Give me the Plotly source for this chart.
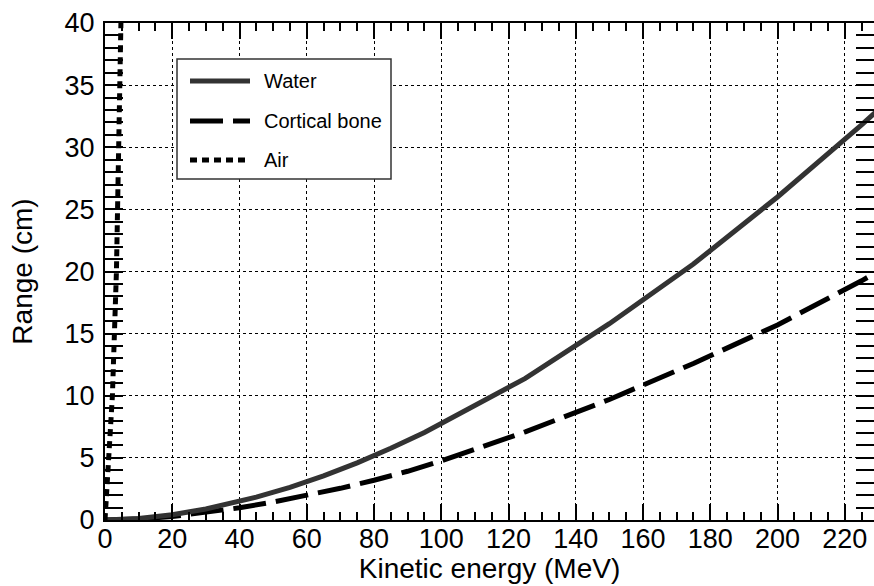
import plotly.graph_objects as go

# ---- data ----
water_E = [0, 10, 20, 30, 45, 55, 65, 75, 85, 95, 125, 150, 175, 200, 225, 250]
water_R = [0, 0.12, 0.43, 0.89, 1.84, 2.63, 3.55, 4.60, 5.78, 7.05, 11.4, 15.8, 20.6, 26.0, 31.8, 37.9]

bone_E = [0, 10, 20, 30, 40, 50, 60, 70, 80, 90, 100, 125, 150, 175, 200, 225, 250]
bone_R = [0, 0.08, 0.28, 0.58, 0.98, 1.45, 1.97, 2.55, 3.20, 3.92, 4.75, 7.10, 9.70, 12.6, 15.7, 19.25, 23.1]

air_E = [0, 0.5, 1.2, 2.2, 3.4, 4.15, 4.6, 4.8, 5.0]
air_R = [0, 2, 5, 10, 20, 30, 35, 40, 44]

x_ticks = list(range(0, 221, 20))
y_ticks = list(range(0, 41, 5))

legend_names = ["Water", "Cortical bone", "Air"]

# ---- styles ----
FONT = "Liberation Sans, Arial, Helvetica, sans-serif"
styles = [
    dict(color="#333333", width=5, dash="solid"),
    dict(color="#000000", width=5, dash="33px,10px"),
    dict(color="#000000", width=5, dash="7px,5px"),
]

fig = go.Figure()
fig.add_trace(go.Scatter(x=bone_E, y=bone_R, mode="lines", name=legend_names[1], line=styles[1],
                         showlegend=False, xaxis="x", yaxis="y"))
fig.add_trace(go.Scatter(x=water_E, y=water_R, mode="lines", name=legend_names[0], line=styles[0],
                         showlegend=False, xaxis="x2", yaxis="y"))
fig.add_trace(go.Scatter(x=air_E, y=air_R, mode="lines", name=legend_names[2], line=styles[2],
                         showlegend=False, xaxis="x2", yaxis="y"))

W, H = 874, 586
ml, mr, mt, mb = 105, 0, 23, 66
pw, ph = W - ml - mr, H - mt - mb
XR = [0, 228.7]

def px(xp):
    return (xp - ml) / pw

def py(yp):
    return (H - mb - yp) / ph

# legend box (drawn in paper coordinates)
shapes = [dict(type="rect", xref="paper", yref="paper",
               x0=px(177), x1=px(391), y0=py(179), y1=py(59),
               line=dict(color="#333333", width=1.5), fillcolor="white", layer="above")]
annotations = []
for i, (name, st) in enumerate(zip(legend_names, styles)):
    yy = [81, 121, 160][i]
    shapes.append(dict(type="line", xref="paper", yref="paper",
                       x0=px(190), x1=px(250), y0=py(yy), y1=py(yy),
                       line=dict(color=st["color"], width=st["width"], dash=st["dash"]), layer="above"))
    annotations.append(dict(xref="paper", yref="paper", x=px(262), y=py(yy), text=name,
                            showarrow=False, xanchor="left", yanchor="middle",
                            font=dict(family=FONT, size=20, color="black")))

fig.update_layout(
    width=W, height=H,
    margin=dict(l=ml, r=mr, t=mt, b=mb, pad=0),
    paper_bgcolor="white", plot_bgcolor="white",
    font=dict(family=FONT, color="black"),
    shapes=shapes, annotations=annotations,
    showlegend=False,
)

fig.update_layout(
    xaxis=dict(
        range=XR, tickmode="array", tickvals=x_ticks, showticklabels=False,
        ticks="inside", ticklen=16, tickwidth=1.5, tickcolor="black",
        minor=dict(dtick=5, ticks="inside", ticklen=8, tickwidth=1.5, tickcolor="black", showgrid=False),
        showline=True, linecolor="black", linewidth=2, mirror="allticks",
        showgrid=True, gridcolor="black", gridwidth=1, griddash="dot",
        zeroline=False, automargin=False,
        title=dict(text="Kinetic energy (MeV)", font=dict(family=FONT, size=28, color="black"), standoff=37),
    ),
    # label-only axis carrying the tick labels
    xaxis2=dict(
        overlaying="x", matches="x", anchor="free", position=0, side="bottom",
        range=XR, tickmode="array", tickvals=x_ticks, ticktext=[str(v) for v in x_ticks],
        ticks="", showline=False, showgrid=False, zeroline=False,
        tickfont=dict(family=FONT, size=27, color="black"),
        automargin=False,
    ),
    yaxis=dict(
        range=[0, 40], tickmode="array", tickvals=y_ticks, ticktext=[str(v) for v in y_ticks],
        ticks="inside", ticklen=18, tickwidth=1.5, tickcolor="black",
        minor=dict(dtick=1, ticks="inside", ticklen=9, tickwidth=1.5, tickcolor="black", showgrid=False),
        showline=True, linecolor="black", linewidth=2, mirror="allticks",
        showgrid=True, gridcolor="black", gridwidth=1, griddash="dot",
        zeroline=False,
        tickfont=dict(family=FONT, size=27, color="black"),
        ticklabelstandoff=3,
        title=dict(text="Range (cm)", font=dict(family=FONT, size=28, color="black"), standoff=24),
        automargin=False,
    ),
)

fig.write_html("out.html")
